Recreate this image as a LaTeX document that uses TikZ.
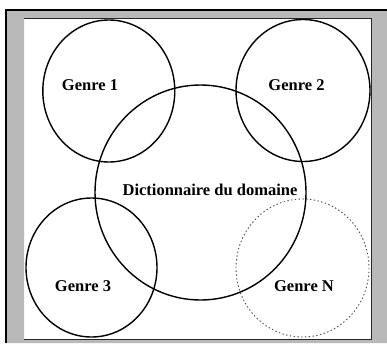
\documentclass[tikz,border=0pt]{standalone}
\usepackage{fontspec}
\setmainfont{Liberation Serif}
\begin{document}
\begin{tikzpicture}[x=1pt,y=-1pt,
  ring/.style={draw=black,line width=1.4pt},
  dashring/.style={draw=black!70,line width=0.9pt,dash pattern=on 1.4pt off 2.4pt},
  lbl/.style={font=\fontsize{16.5}{18}\selectfont\bfseries,inner sep=0pt}]
\useasboundingbox (0,0) rectangle (387,343);
% frame
\fill[white] (0,0) rectangle (387,343);
\fill[gray!55,even odd rule] (6,10) rectangle (387,343) (24,18) rectangle (371,339);
\draw[line width=1.8pt] (387,10) -- (6,10) -- (6,343);
\draw[line width=0.9pt,black!85] (24,18) -- (371,18) -- (371,339) -- (24,339);
% circles
\draw[ring] (108.8,91) ellipse [x radius=66, y radius=71];
\draw[ring] (303,90.5) ellipse [x radius=67, y radius=71];
\draw[ring] (200.5,192.5) ellipse [x radius=105.5, y radius=107.5];
\draw[ring] (91.5,267.5) ellipse [x radius=65.5, y radius=69.5];
\draw[dashring] (302.5,268) ellipse [x radius=66.5, y radius=69];
% labels
\node[lbl] (g1) at (90,85) {Genre 1};
\node[lbl] (g2) at (296.5,85) {Genre 2};
\node[lbl] (dd) at (210,190) {Dictionnaire du domaine};
\node[lbl] (g3) at (83,286) {Genre 3};
\node[lbl] (gn) at (304,286) {Genre N};
\end{tikzpicture}
\end{document}
